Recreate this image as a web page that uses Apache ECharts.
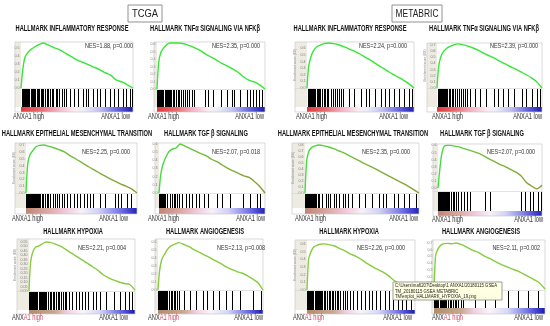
<!DOCTYPE html>
<html><head><meta charset="utf-8">
<script src="https://cdn.jsdelivr.net/npm/echarts@6/dist/echarts.min.js"></script>
<style>html,body{margin:0;padding:0;background:#fff}#c{width:550px;height:326px}</style>
</head><body><div id="c"></div>
<script>
// ---------- data ----------
const RANK = [0,1.5,3.5,6,9,12,16,20,25,30,35,40,45,50,55,60,65,70,75,80,85,90,95,100];

const ES_TCGA_INFLAM = [0,0.22,0.38,0.44,0.48,0.51,0.54,0.56,0.53,0.50,0.47,0.43,0.39,0.35,0.32,0.29,0.26,0.23,0.19,0.16,0.10,0.075,0.04,0];
const ES_TCGA_TNF    = [0,0.35,0.49,0.55,0.60,0.62,0.62,0.62,0.61,0.585,0.555,0.52,0.47,0.43,0.39,0.345,0.31,0.27,0.225,0.165,0.12,0.095,0.055,0];
const ES_MET_INFLAM  = [0,0.32,0.46,0.56,0.62,0.645,0.67,0.68,0.67,0.65,0.62,0.585,0.55,0.51,0.46,0.415,0.36,0.31,0.26,0.21,0.165,0.12,0.066,0];
const ES_MET_TNF     = [0,0.34,0.50,0.585,0.64,0.67,0.70,0.715,0.70,0.675,0.645,0.605,0.56,0.52,0.48,0.43,0.39,0.345,0.305,0.26,0.215,0.165,0.10,0];
const ES_TCGA_EMT    = [0,0.42,0.56,0.62,0.68,0.70,0.705,0.69,0.665,0.635,0.60,0.545,0.50,0.45,0.40,0.35,0.305,0.26,0.215,0.175,0.135,0.10,0.06,0];
const ES_TCGA_TGF    = [0,0.21,0.34,0.425,0.50,0.535,0.55,0.60,0.57,0.54,0.51,0.48,0.45,0.41,0.38,0.34,0.30,0.27,0.24,0.21,0.19,0.14,0.08,0];
const ES_MET_EMT     = [0,0.54,0.70,0.76,0.785,0.80,0.79,0.77,0.74,0.70,0.66,0.61,0.56,0.51,0.465,0.42,0.37,0.32,0.27,0.22,0.17,0.12,0.06,0];
const ES_MET_TGF     = [0,0.23,0.47,0.59,0.60,0.60,0.59,0.58,0.555,0.535,0.51,0.485,0.445,0.405,0.37,0.33,0.30,0.26,0.225,0.17,0.08,0.03,-0.01,0.04];
const ES_TCGA_HYP    = [0,0.32,0.43,0.485,0.50,0.52,0.545,0.54,0.52,0.495,0.46,0.42,0.385,0.345,0.31,0.27,0.23,0.18,0.145,0.12,0.10,0.083,0.072,0.01];
const ES_TCGA_ANG    = [0,0.24,0.38,0.445,0.51,0.55,0.575,0.595,0.57,0.54,0.50,0.47,0.435,0.40,0.365,0.33,0.29,0.26,0.23,0.213,0.18,0.14,0.095,0];
const ES_MET_HYP     = [0,0.40,0.49,0.555,0.58,0.595,0.60,0.59,0.575,0.54,0.51,0.47,0.44,0.40,0.35,0.31,0.27,0.235,0.19,0.13,0.09,0.06,0.03,0];
const ES_MET_ANG     = [0,0.52,0.61,0.665,0.69,0.695,0.69,0.70,0.675,0.635,0.59,0.56,0.51,0.47,0.425,0.385,0.35,0.315,0.285,0.245,0.20,0.155,0.105,0.015];

const HITS_TCGA_INFLAM = [0.5,1.5,2.5,3.5,4.5,5.5,6.5,7.5,8.5,9.5,10.5,11.5,12.5,14,15,16.5,17.5,19,20,21.5,23,24.5,26,27.8,29,31,32.5,34,36.4,38,40,44,47.5,51,55,58,60,64,68,70.7,75,79.7,83,87,91,94,97,99];
const HITS_TCGA_TNF    = [0.3,1,2,3,4,5,6,7,8,9,10,11,12,13,14.5,16,17.5,19,20.5,22,24,26,28,30,32,34,44,47,52,59,65,69,71,77,83,86,89,92,94,97];
const HITS_MET_INFLAM  = [0.5,1.5,2.5,3.5,4.5,5.5,6.5,7.5,9,10,11,12.5,14,15.5,17,18.5,20,22,24,26,28,30,32,34,39,44,50,55,58,64,69,73,77,81,86,91,95,98];
const HITS_MET_TNF     = [0.5,1.5,2.5,3.5,4.5,5.5,6.5,7.5,8.5,9.5,11,12.5,14,15.5,17,19,21,23,25,27,29,31,36,41,47,54,58,63,68,73,81,85,90,95,98];
const HITS_TCGA_EMT    = [0.3,1,1.7,2.4,3.1,3.8,4.5,5.2,6,7,8,9,10,11,12,13,14,15.5,17,18.5,20,22,24,26,28,30,32,34,37,40,43,46,49,52,55,58,60,67,71,80,83,86,91,95];
const HITS_TCGA_TGF    = [0.3,1,2,3,4,5,6,8,10,12,14,15,17,19,22,25,28,31,35,38,42,46,55,59,67,79,86,92,95];
const HITS_MET_EMT     = [0.3,1,1.7,2.4,3.1,3.8,4.5,5.2,6,7,8,9,10,11,12,15,18,20,22,25,27,30,33,35,38,41,47,53,59,65,68,71,78,82,87,91,97];
const HITS_MET_TGF     = [0.3,1,1.7,2.4,3.1,4,5,6,7,8,9,10,11,12.5,14,15.5,17,19,22,25,28,31,45,50,80,84,88,91,96,99];
const HITS_TCGA_HYP    = [0.3,1,2,3,4,5,6,7,8,9,10,11,12,13,14,15,16.5,18,19.5,21,22.5,24,25.5,27,28.5,30,32,33.5,35,38,41,44,47,50,53,56,60,63,67,73,80,86,91,94,97];
const HITS_TCGA_ANG    = [0.3,1,2,3,4,5,6,7,8,9,10.5,12,13.5,15,16.5,18,20,25,30,36,43,47,52,58,65,70,78,90,98];
const HITS_MET_HYP     = [0.3,1,2,3,4,5,6,7,8,9,10,11,12,13,14,15.5,17,18.5,20,21.5,23,24.5,26,27.5,29,31,33,35,37,40,43,46,50,54,57,60,64,68,72,76,80,84,88,92,96];
const HITS_MET_ANG     = [0.3,1,2,3,4,5,6,7,8,9,10,11,12.5,14,15.5,17,18.5,20,22,24,26,37,46,55,67,76,85,94];

const TITLES = ['HALLMARK INFLAMMATORY RESPONSE','HALLMARK TNFα SIGNALING VIA NFKβ','HALLMARK INFLAMMATORY RESPONSE','HALLMARK TNFα SIGNALING VIA NFKβ',
  'HALLMARK EPITHELIAL MESENCHYMAL TRANSITION','HALLMARK TGF β SIGNALING','HALLMARK EPITHELIAL MESENCHYMAL TRANSITION','HALLMARK TGF β SIGNALING',
  'HALLMARK HYPOXIA','HALLMARK ANGIOGENESIS','HALLMARK HYPOXIA','HALLMARK ANGIOGENESIS'];
const NES_TEXT = ['NES=1.88, p=0.000','NES=2.35, p=0.000','NES=2.24, p=0.000','NES=2.39, p=0.000',
  'NES=2.25, p=0.000','NES=2.07, p=0.018','NES=2.35, p=0.000','NES=2.07, p=0.000',
  'NES=2.21, p=0.004','NES=2.13, p=0.008','NES=2.26, p=0.000','NES=2.11, p=0.002'];
const COHORTS = ['TCGA','METABRIC'];
const LABEL_HIGH = 'ANXA1 high', LABEL_LOW = 'ANXA1 low';
const Y_NAME = 'Enrichment score (ES)';
const TOOLTIP_LINES = ['C:\\Users\\ma6207\\Desktop\\1 ANXA1\\20180115 GSEA','TM_20180115 GSEA METABRIC','TM\\enplot_HALLMARK_HYPOXIA_19.png'];

const TICKS_05 = [0,0.1,0.2,0.3,0.4,0.5];
const TICKS_06 = [0,0.1,0.2,0.3,0.4,0.5,0.6];
const TICKS_07 = [0,0.1,0.2,0.3,0.4,0.5,0.6,0.7];
const TICKS_08 = [0,0.1,0.2,0.3,0.4,0.5,0.6,0.7,0.8];
const TICKS_H  = [0,0.05,0.1,0.15,0.2,0.25,0.3,0.35,0.4,0.45,0.5,0.55];

const ES = [ES_TCGA_INFLAM,ES_TCGA_TNF,ES_MET_INFLAM,ES_MET_TNF,ES_TCGA_EMT,ES_TCGA_TGF,ES_MET_EMT,ES_MET_TGF,ES_TCGA_HYP,ES_TCGA_ANG,ES_MET_HYP,ES_MET_ANG];
const HITS = [HITS_TCGA_INFLAM,HITS_TCGA_TNF,HITS_MET_INFLAM,HITS_MET_TNF,HITS_TCGA_EMT,HITS_TCGA_TGF,HITS_MET_EMT,HITS_MET_TGF,HITS_TCGA_HYP,HITS_TCGA_ANG,HITS_MET_HYP,HITS_MET_ANG];
const TICKS = [TICKS_05,TICKS_06,TICKS_07,TICKS_07,TICKS_07,TICKS_06,TICKS_08,TICKS_06,TICKS_H,TICKS_06,TICKS_06,TICKS_07];

// ---------- layout (pixels) ----------
const L = [
 {fl:15, l:21, r:133, t:42, b:88, bb:107, gb:112, ymin:0, ymax:0.572, ly:117, hx:13, lx:130, tx:72,  ty:29,  nx:133, ny:46, yn:false},
 {fl:154,l:157,r:265, t:42, b:89, bb:107, gb:112, ymin:0, ymax:0.633, ly:117, hx:148,lx:264, tx:205, ty:29,  nx:260, ny:46, yn:false},
 {fl:295,l:307,r:414, t:42, b:88, bb:107, gb:112, ymin:0, ymax:0.695, ly:117, hx:296,lx:408, tx:350, ty:29,  nx:407, ny:46, yn:true},
 {fl:427,l:437,r:542, t:43, b:88, bb:107, gb:112, ymin:0, ymax:0.73,  ly:117, hx:432,lx:542, tx:484, ty:29,  nx:538, ny:46, yn:true},
 {fl:15, l:26, r:137, t:143,b:193,bb:208, gb:214, ymin:0, ymax:0.735, ly:219, hx:12, lx:128, tx:77,  ty:134, nx:130, ny:152, yn:true},
 {fl:155,l:159,r:265, t:143,b:193,bb:208, gb:214, ymin:0, ymax:0.612, ly:219, hx:148,lx:265, tx:206, ty:134, nx:260, ny:152, yn:false},
 {fl:292,l:305,r:419, t:143,b:193,bb:208, gb:214, ymin:0, ymax:0.833, ly:219, hx:295,lx:418, tx:353, ty:134, nx:410, ny:152, yn:true},
 {fl:433,l:438,r:542, t:144,b:191,bb:211, gb:216, ymin:-0.04,ymax:0.62, ly:220, hx:432,lx:543, tx:482, ty:134, nx:535, ny:152, yn:false},
 {fl:17, l:29, r:135, t:239,b:291,bb:310, gb:314, ymin:0, ymax:0.578, ly:318, hx:12, lx:128, tx:73,  ty:232, nx:126, ny:248, yn:true},
 {fl:155,l:158,r:263, t:239,b:290,bb:310, gb:314, ymin:0, ymax:0.64,  ly:318, hx:148,lx:263, tx:205, ty:232, nx:265, ny:248, yn:false},
 {fl:295,l:307,r:415, t:240,b:290,bb:310, gb:314, ymin:0, ymax:0.65,  ly:318, hx:293,lx:412, tx:349, ty:232, nx:405, ny:248, yn:true},
 {fl:432,l:434,r:545, t:240,b:290,bb:308, gb:314, ymin:0, ymax:0.745, ly:318, hx:432,lx:543, tx:481, ty:232, nx:540, ny:248, yn:false}
];

const FAM = '"Liberation Sans",Arial,sans-serif';
const mctx = document.createElement('canvas').getContext('2d');
function measure(text, size, weight){ mctx.font = (weight||'normal')+' '+size+'px '+FAM; return mctx.measureText(text).width; }
// horizontal condensation factors so that text widths match the reference
const TITLE_SIZE = 8.8, TITLE_SX = 113 / measure(TITLES[0], TITLE_SIZE, 'bold');
const NES_SIZE = 8, NES_SX = 48 / measure(NES_TEXT[0], NES_SIZE);
const LAB_SIZE = 8.5, LAB_SX = 31 / measure(LABEL_HIGH, LAB_SIZE);
const TIP_SIZE = 5.6, TIP_SX = 102 / measure(TOOLTIP_LINES[0], TIP_SIZE);

const GRADS = [
 [[0,'#e03a3c'],[0.18,'#e86c70'],[0.33,'#f3b4c6'],[0.48,'#fbeef4'],[0.56,'#eeeefa'],[0.7,'#c2c2f0'],[0.86,'#6464e0'],[1,'#1c1cb0']],
 [[0,'#c08474'],[0.2,'#d8aaa2'],[0.35,'#f0c8d8'],[0.5,'#f6f0f8'],[0.65,'#d2d2f4'],[0.82,'#8282e8'],[1,'#2222c0']],
 [[0,'#b08c6c'],[0.25,'#c8aa92'],[0.36,'#f0d0e0'],[0.5,'#faf4fa'],[0.66,'#d8d8f8'],[0.86,'#6a6ae0'],[1,'#1818b8']]
];
const LINE_COLORS = [
 '#36e636',
 {type:'linear',x:0,y:0,x2:1,y2:0,colorStops:[{offset:0,color:'#3ee03e'},{offset:0.4,color:'#74bc3c'},{offset:1,color:'#8c9a38'}]},
 '#86cc3e'
];

const grid=[], xAxis=[], yAxis=[], series=[], graphic=[];
COHORTS.forEach((c,k)=>{
  const cx = k===0?145:417, w = k===0?34:50, tw = k===0?26:43;
  graphic.push({type:'rect',z:5,shape:{x:cx-w/2,y:5,width:w,height:17},style:{fill:'#fff',stroke:'#777',lineWidth:0.8}});
  graphic.push({type:'text',z:6,x:cx,y:14,scaleX:tw/measure(c,11),style:{text:c,fontSize:11,fontFamily:FAM,fill:'#222',textAlign:'center',textVerticalAlign:'middle'}});
});

L.forEach((p,i)=>{
  const row = Math.floor(i/4);
  const ge = 2*i, gb = 2*i+1;
  grid.push({left:p.l, top:p.t, width:p.r-p.l, height:p.b-p.t});
  grid.push({left:p.l, top:p.b+1, width:p.r-p.l, height:p.bb-p.b-1});
  xAxis.push({gridIndex:ge,type:'value',min:0,max:100,show:false});
  xAxis.push({gridIndex:gb,type:'value',min:0,max:100,show:false});
  const dec = TICKS[i]===TICKS_H?2:1;
  yAxis.push({gridIndex:ge,type:'value',min:p.ymin,max:p.ymax,
    splitLine:{show:false},axisLine:{show:false},axisTick:{show:false},
    axisLabel:{fontSize:3.6,color:'#777',margin:1.5,customValues:TICKS[i],formatter:v=>v.toFixed(dec)},
    name:p.yn?Y_NAME:'',nameLocation:'middle',nameGap:p.l-p.fl-3,nameRotate:90,
    nameTextStyle:{fontSize:3.2,color:'#777'}});
  yAxis.push({gridIndex:gb,type:'value',min:0,max:1,show:false});
  series.push({type:'line',xAxisIndex:ge,yAxisIndex:ge,showSymbol:false,smooth:0.25,z:4,
    lineStyle:{width:1.4,color:LINE_COLORS[row]},data:RANK.map((x,k)=>[x,ES[i][k]])});
  series.push({type:'custom',xAxisIndex:gb,yAxisIndex:gb,z:4,data:HITS[i].map(h=>[h]),
    renderItem:(params,api)=>{
      const a=api.coord([api.value(0),0]), b=api.coord([api.value(0),1]);
      const x=Math.round(a[0])+0.5;
      return {type:'line',shape:{x1:x,y1:a[1],x2:x,y2:b[1]},style:{stroke:'#000',lineWidth:1}};
    }});
  // decoration
  graphic.push({type:'rect',z:0,shape:{x:p.fl,y:p.t,width:p.l-p.fl,height:p.bb-p.t},style:{fill:'#eeebe2'}});
  graphic.push({type:'rect',z:1,shape:{x:p.l,y:p.bb,width:p.r-p.l,height:p.gb-p.bb},
    style:{fill:{type:'linear',x:0,y:0,x2:1,y2:0,colorStops:GRADS[row].map(s=>({offset:s[0],color:s[1]}))}}});
  graphic.push({type:'line',z:1,shape:{x1:p.fl,y1:p.b+0.5,x2:p.r,y2:p.b+0.5},style:{stroke:'#d0d0d0',lineWidth:0.6}});
  graphic.push({type:'rect',z:1,shape:{x:p.fl,y:p.t,width:p.r-p.fl,height:p.gb-p.t},style:{fill:'none',stroke:'#cacaca',lineWidth:0.7}});
  graphic.push({type:'text',z:6,x:p.tx,y:p.ty,scaleX:TITLE_SX,style:{text:TITLES[i],fontSize:TITLE_SIZE,fontWeight:'bold',fontFamily:FAM,fill:'#111',textAlign:'center',textVerticalAlign:'middle'}});
  graphic.push({type:'text',z:6,x:p.nx,y:p.ny,scaleX:NES_SX,style:{text:NES_TEXT[i],fontSize:NES_SIZE,fontFamily:FAM,fill:'#333',textAlign:'right',textVerticalAlign:'middle'}});
  if(row===2){
    graphic.push({type:'text',z:6,x:p.hx,y:p.ly,scaleX:LAB_SX,style:{text:'{a|ANX}{b|A1 high}',fontSize:LAB_SIZE,fontFamily:FAM,textVerticalAlign:'middle',
      rich:{a:{fill:'#333',color:'#333',fontSize:LAB_SIZE,fontFamily:FAM},b:{fill:'#d04868',color:'#d04868',fontSize:LAB_SIZE,fontFamily:FAM}}}});
  } else {
    graphic.push({type:'text',z:6,x:p.hx,y:p.ly,scaleX:LAB_SX,style:{text:LABEL_HIGH,fontSize:LAB_SIZE,fontFamily:FAM,fill:'#333',textAlign:'left',textVerticalAlign:'middle'}});
  }
  graphic.push({type:'text',z:6,x:p.lx,y:p.ly,scaleX:LAB_SX,style:{text:LABEL_LOW,fontSize:LAB_SIZE,fontFamily:FAM,fill:'#333',textAlign:'right',textVerticalAlign:'middle'}});
});

// screenshot tooltip overlay
graphic.push({type:'rect',z:50,shape:{x:393,y:282,width:109,height:18},style:{fill:'#ffffe1',stroke:'#777',lineWidth:0.7}});
graphic.push({type:'text',z:51,x:395,y:282.8,scaleX:TIP_SX,style:{text:TOOLTIP_LINES.join('\n'),
  fontSize:TIP_SIZE,lineHeight:5.6,fontFamily:FAM,fill:'#222',textAlign:'left',textVerticalAlign:'top'}});

const chart = echarts.init(document.getElementById('c'),null,{renderer:'canvas'});
chart.setOption({animation:false,backgroundColor:'#fff',grid,xAxis,yAxis,series,graphic});
</script></body></html>
